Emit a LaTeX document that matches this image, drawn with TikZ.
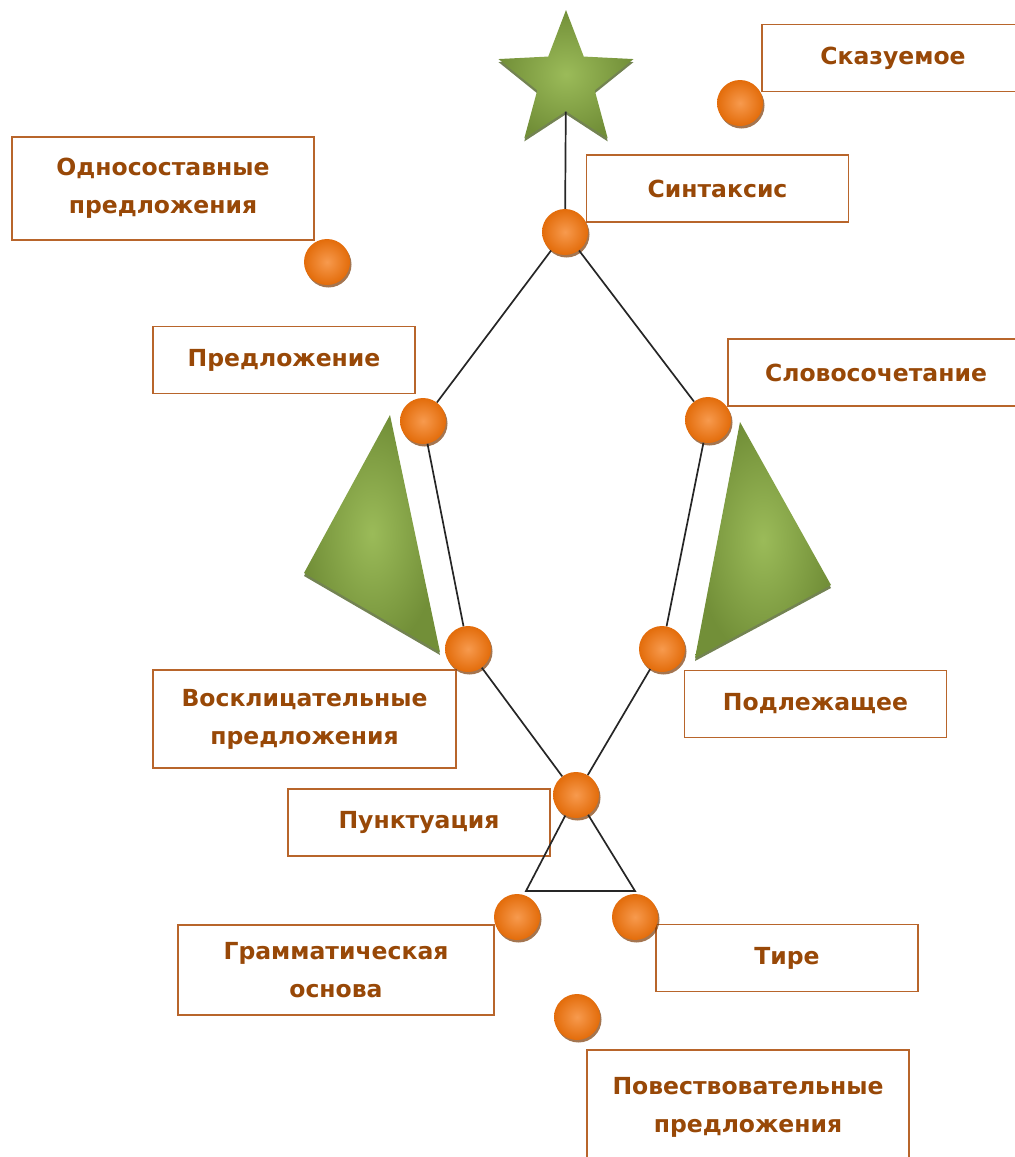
\documentclass[tikz,border=0pt]{standalone}
\usepackage{fontspec}
\setmainfont{DejaVu Sans}
\usetikzlibrary{shapes.geometric, shadows}

\definecolor{boxline}{HTML}{B8652B}
\definecolor{boxtext}{HTML}{984807}
\definecolor{ballin}{HTML}{F79A4E}
\definecolor{ballout}{HTML}{E36C0A}
\definecolor{leafin}{HTML}{9BBB59}
\definecolor{leafout}{HTML}{728F38}

\tikzset{
  box/.style={draw=boxline, line width=1.8pt, fill=white, inner sep=0pt,
    minimum width=262, minimum height=67, align=center, text=boxtext,
    font=\fontsize{23.5}{38}\selectfont\bfseries},
  ball/.style={circle, minimum size=46, inner sep=0pt,
    inner color=ballin, outer color=ballout,
    drop shadow={shadow xshift=1.5pt, shadow yshift=-2.5pt,
      fill=ballout!55!black, opacity=.7}},
  leaf/.style={inner color=leafin, outer color=leafout,
    drop shadow={shadow xshift=0pt, shadow yshift=-3pt,
      fill=leafout!70!black, opacity=.8}},
  link/.style={line width=1.7pt, black!85},
}

\begin{document}
\begin{tikzpicture}[x=1pt, y=-1pt]
\useasboundingbox (0,0) rectangle (1015,1157);
% Boxes
\node[box]                                  (skaz)   at (893,58)    {Сказуемое};
\node[box]                                  (synt)   at (717.5,188.5) {Синтаксис};
\node[box, minimum width=302, minimum height=103] (odno) at (163,188.5) {Односоставные\\предложения};
\node[box]                                  (pred)   at (284,360)   {Предложение};
\node[box, minimum width=296]               (slov)   at (876,372.5) {Словосочетание};
\node[box, minimum width=303, minimum height=98] (voskl) at (304.5,719) {Восклицательные\\предложения};
\node[box]                                  (podl)   at (815.5,704) {Подлежащее};
\node[box]                                  (punkt)  at (419,822.5) {Пунктуация};
\node[box, minimum width=316, minimum height=90] (gram) at (336,970) {Грамматическая\\основа};
\node[box]                                  (tire)   at (787,958)   {Тире};
\node[box, minimum width=322, minimum height=114] (povest) at (748,1107) {Повествовательные\\предложения};
% Green figures
\shade[leaf] (390,415) -- (304,573) -- (440,652) -- cycle;
\shade[leaf] (740,422) -- (831,585) -- (695,658) -- cycle;
\node[star, star points=5, star point ratio=2.35, minimum size=142, inner sep=0pt,
  leaf] (star) at (566,81) {};
% Balls
\node[ball] (b-skaz)   at (740,103) {};
\node[ball] (b-synt)   at (565,232) {};
\node[ball] (b-odno)   at (327,262) {};
\node[ball] (b-pred)   at (423,421) {};
\node[ball] (b-slov)   at (708,420) {};
\node[ball] (b-voskl)  at (468,649) {};
\node[ball] (b-podl)   at (662,649) {};
\node[ball] (b-punkt)  at (576,795) {};
\node[ball] (b-gram)   at (517,917) {};
\node[ball] (b-tire)   at (635,917) {};
\node[ball] (b-povest) at (577,1017) {};
% Connectors
\coordinate (tl) at (526,891);
\coordinate (tr) at (635,891);
\draw[link] (star) -- (b-synt);
\draw[link] (b-synt) -- (b-pred);
\draw[link] (b-synt) -- (b-slov);
\draw[link] (b-pred) -- (b-voskl);
\draw[link] (b-slov) -- (b-podl);
\draw[link] (b-voskl) -- (b-punkt);
\draw[link] (b-podl) -- (b-punkt);
\draw[link] (b-punkt) -- (tl) -- (tr) -- (b-punkt);
\end{tikzpicture}
\end{document}
